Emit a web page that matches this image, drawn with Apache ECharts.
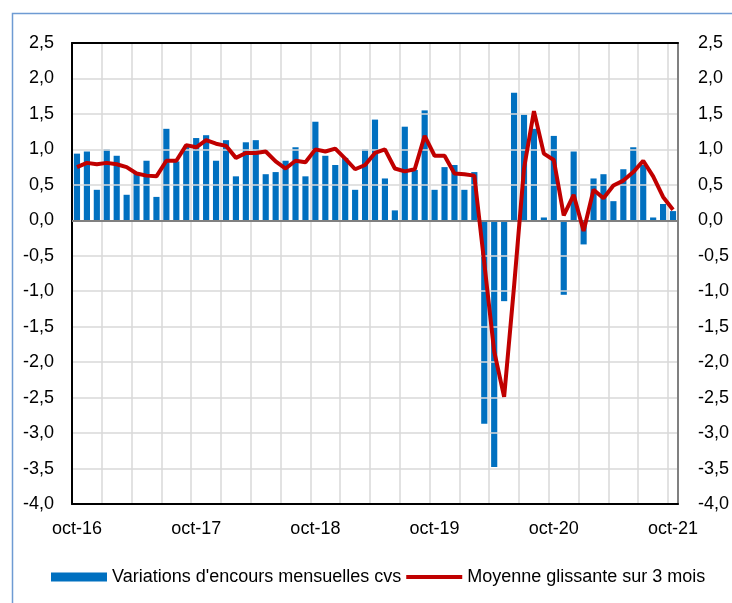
<!DOCTYPE html>
<html>
<head>
<meta charset="utf-8">
<script src="https://cdn.jsdelivr.net/npm/echarts@6/dist/echarts.min.js"></script>
<style>html,body{margin:0;padding:0;background:#fff;}#c{width:732px;height:603px;}</style>
</head>
<body>
<div id="c"></div>
<script>
const categories = [
 'oct-16','nov-16','déc-16','janv-17','févr-17','mars-17','avr-17','mai-17','juin-17','juil-17','août-17','sept-17',
 'oct-17','nov-17','déc-17','janv-18','févr-18','mars-18','avr-18','mai-18','juin-18','juil-18','août-18','sept-18',
 'oct-18','nov-18','déc-18','janv-19','févr-19','mars-19','avr-19','mai-19','juin-19','juil-19','août-19','sept-19',
 'oct-19','nov-19','déc-19','janv-20','févr-20','mars-20','avr-20','mai-20','juin-20','juil-20','août-20','sept-20',
 'oct-20','nov-20','déc-20','janv-21','févr-21','mars-21','avr-21','mai-21','juin-21','juil-21','août-21','sept-21',
 'oct-21'
];
const monthlyChange = [
 0.94,0.97,0.43,1.00,0.91,0.36,0.67,0.84,0.33,1.29,0.83,1.05,
 1.16,1.20,0.84,1.13,0.62,1.10,1.13,0.65,0.68,0.84,1.03,0.62,
 1.39,0.91,0.78,0.88,0.43,1.00,1.42,0.59,0.14,1.32,0.71,1.55,
 0.43,0.75,0.78,0.43,0.68,-2.87,-3.48,-1.14,1.80,1.49,1.29,0.04,
 1.19,-1.05,0.97,-0.34,0.59,0.65,0.27,0.72,1.03,0.78,0.04,0.23,
 0.13
];
const movingAvg3 = [
 0.75,0.81,0.79,0.81,0.79,0.75,0.66,0.63,0.62,0.84,0.84,1.06,
 1.03,1.13,1.08,1.05,0.88,0.95,0.95,0.97,0.83,0.73,0.84,0.82,
 1.00,0.97,1.01,0.87,0.72,0.78,0.95,1.00,0.73,0.69,0.72,1.19,
 0.91,0.91,0.66,0.65,0.63,-0.60,-1.85,-2.49,-0.93,0.73,1.54,0.94,
 0.85,0.07,0.36,-0.15,0.43,0.31,0.49,0.56,0.68,0.84,0.62,0.33,
 0.15
];
const seriesNames = ["Variations d'encours mensuelles cvs", "Moyenne glissante sur 3 mois"];

const FONT = "'Liberation Sans', Arial, sans-serif";
const fmt = v => v.toFixed(1).replace('.', ',');
const chart = echarts.init(document.getElementById('c'), null, {renderer: 'canvas'});
chart.setOption({
  animation: false,
  backgroundColor: '#fff',
  textStyle: {fontFamily: FONT},
  grid: {left: 72, right: 54, top: 43, bottom: 99, containLabel: false},
  graphic: [{
    type: 'rect', left: 10, top: 11, z: 100, silent: true,
    shape: {width: 740, height: 610},
    style: {fill: 'none', stroke: '#6E9BD3', lineWidth: 1.5}
  }],
  legend: {
    left: 51, top: 568, padding: 0, itemGap: 5, itemWidth: 56, itemHeight: 9,
    textStyle: {fontSize: 18, color: '#000', fontFamily: FONT},
    data: [
      {name: seriesNames[0], icon: 'rect'},
      {name: seriesNames[1], icon: 'path://M0,0 M56,9 M0,2.5 L56,2.5 L56,6.5 L0,6.5 Z',
       itemStyle: {color: '#C00000', borderWidth: 0}}
    ]
  },
  xAxis: [{
    type: 'category', data: categories, position: 'bottom', boundaryGap: true,
    axisLine: {show: true, onZero: false, lineStyle: {color: '#000', width: 2}},
    axisTick: {show: false},
    axisLabel: {interval: 11, fontSize: 18, color: '#000', margin: 16, fontFamily: FONT},
    splitLine: {show: true, interval: 2, lineStyle: {color: '#D9D9D9', width: 1.5}},
    z: 3
  }, {
    type: 'category', data: categories, position: 'top', boundaryGap: true,
    axisLine: {show: true, onZero: false, lineStyle: {color: '#000', width: 2}},
    axisTick: {show: false}, axisLabel: {show: false}, splitLine: {show: false},
    z: 3
  }],
  yAxis: [{
    type: 'value', min: -4, max: 2.5, interval: 0.5, position: 'left',
    axisLine: {show: true, onZero: false, lineStyle: {color: '#000', width: 2}},
    axisTick: {show: false},
    axisLabel: {formatter: fmt, fontSize: 18, color: '#000', margin: 18, fontFamily: FONT},
    splitLine: {show: true, lineStyle: {color: '#D9D9D9', width: 1.5}},
    z: 3
  }, {
    type: 'value', min: -4, max: 2.5, interval: 0.5, position: 'right',
    axisLine: {show: true, onZero: false, lineStyle: {color: '#808080', width: 2}},
    axisTick: {show: false},
    axisLabel: {formatter: fmt, fontSize: 18, color: '#000', margin: 20, fontFamily: FONT},
    splitLine: {show: false},
    z: 3
  }],
  series: [{
    name: seriesNames[0], type: 'bar', data: monthlyChange,
    xAxisIndex: 0, yAxisIndex: 0, barWidth: '62%',
    itemStyle: {color: '#0070C0'},
    markLine: {
      silent: true, symbol: 'none', label: {show: false},
      lineStyle: {color: '#808080', width: 2, type: 'solid'},
      data: [{yAxis: 0}]
    }
  }, {
    name: seriesNames[1], type: 'line', data: movingAvg3,
    xAxisIndex: 0, yAxisIndex: 1, symbol: 'none', smooth: false, z: 5,
    lineStyle: {color: '#C00000', width: 4}, itemStyle: {color: '#C00000'}
  }]
});
</script>
</body>
</html>
